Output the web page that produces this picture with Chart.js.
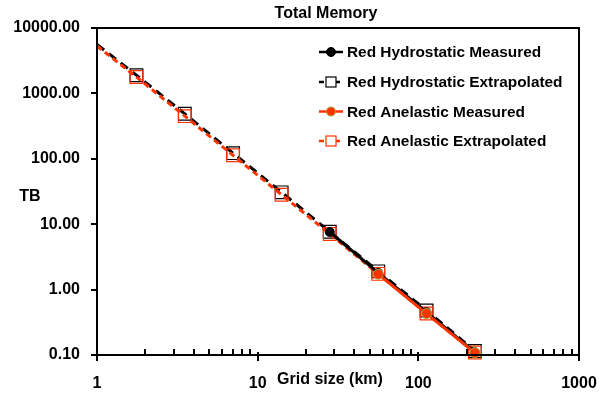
<!DOCTYPE html>
<html>
<head>
<meta charset="utf-8">
<script src="https://cdn.jsdelivr.net/npm/chart.js@4.4.1/dist/chart.umd.min.js"></script>
<style>
  html, body { margin: 0; padding: 0; background: #fff; }
  #wrap { width: 605px; height: 394px; }
</style>
</head>
<body>
<div id="wrap"><canvas id="c" width="605" height="394"></canvas></div>
<script>
// Grid sizes (km) and memory totals (TB)
const gridSize        = [1, 1.76, 3.52, 7.03, 14.1, 28.1, 56.3, 112.5, 225];
const hydroExtrap     = [5600, 1900, 487, 122, 30.7, 7.65, 1.9, 0.48, 0.115];
const anelExtrap      = [5300, 1780, 449, 113, 28.2, 7.1, 1.74, 0.43, 0.109];
const measuredSize    = [28.1, 56.3, 112.5, 225];
const hydroMeasured   = [7.6, 1.8, 0.45, 0.11];
const anelSize        = [56.3, 112.5, 225];
const anelMeasured    = [1.72, 0.43, 0.108];
const xTicks = [1, 10, 100, 1000];
const yTicks = [0.1, 1, 10, 100, 1000, 10000];

const RED = '#FF3300';
const OLIVE = '#9BA83A';
const FONT = "'Liberation Sans', Arial, sans-serif";

const pts = (xs, ys) => xs.map((x, i) => ({ x: x, y: ys[i] }));
const isPow10 = v => Math.abs(Math.log10(v) - Math.round(Math.log10(v))) < 1e-9;

const series = [
  { label: 'Red Hydrostatic Measured', color: '#000', dash: [], marker: 'dot' },
  { label: 'Red Hydrostatic Extrapolated', color: '#000', dash: [9, 6], marker: 'square' },
  { label: 'Red Anelastic Measured', color: RED, dash: [], marker: 'dot' },
  { label: 'Red Anelastic Extrapolated', color: RED, dash: [6, 4], marker: 'square' }
];

// Frame, tick marks, legend and axis titles
const decor = {
  id: 'decor',
  afterDraw(chart) {
    const { ctx, chartArea: a, scales } = chart;
    const xs = scales.x, ys = scales.y;
    ctx.save();
    ctx.strokeStyle = '#000';
    ctx.lineWidth = 2;
    ctx.strokeRect(a.left, a.top, a.right - a.left, a.bottom - a.top);
    // x ticks: majors cross the axis, minors point inward
    ctx.beginPath();
    for (let d = 1; d <= 1000; d *= 10) {
      for (let m = 1; m <= 9; m++) {
        const v = d * m;
        if (v > 1000) break;
        const px = Math.round(xs.getPixelForValue(v));
        if (m === 1) { ctx.moveTo(px, a.bottom - 3); ctx.lineTo(px, a.bottom + 6); }
        else { ctx.moveTo(px, a.bottom - 6); ctx.lineTo(px, a.bottom); }
      }
    }
    // y ticks: majors outward
    yTicks.forEach(v => {
      const py = Math.round(ys.getPixelForValue(v));
      ctx.moveTo(a.left - 6, py); ctx.lineTo(a.left, py);
    });
    ctx.stroke();

    // titles
    ctx.fillStyle = '#000';
    ctx.font = 'bold 16px ' + FONT;
    ctx.textAlign = 'center';
    ctx.textBaseline = 'middle';
    ctx.fillText('Total Memory', 326, 14);
    ctx.fillText('Grid size (km)', 330, 380);
    ctx.fillText('TB', 30, 197);

    // legend
    ctx.font = 'bold 15.4px ' + FONT;
    const x0 = 319, x1 = 343, tx = 347;
    const rows = [52, 82, 111.5, 141];
    series.forEach((s, i) => {
      const y = rows[i];
      ctx.strokeStyle = s.color;
      ctx.lineWidth = 2.5;
      ctx.setLineDash(s.dash.length ? [5, 3] : []);
      ctx.beginPath(); ctx.moveTo(x0, y); ctx.lineTo(x1, y); ctx.stroke();
      ctx.setLineDash([]);
      const cx = (x0 + x1) / 2;
      if (s.marker === 'dot') {
        ctx.fillStyle = s.color;
        ctx.strokeStyle = s.color === RED ? OLIVE : '#000';
        ctx.lineWidth = 1;
        ctx.beginPath(); ctx.arc(cx, y, 4.5, 0, Math.PI * 2); ctx.fill(); ctx.stroke();
      } else {
        ctx.fillStyle = '#fff';
        ctx.strokeStyle = s.color;
        ctx.lineWidth = 1.2;
        ctx.fillRect(cx - 5, y - 5, 10, 10);
        ctx.strokeRect(cx - 5, y - 5, 10, 10);
      }
      ctx.fillStyle = '#000';
      ctx.textAlign = 'left';
      ctx.textBaseline = 'middle';
      ctx.fillText(s.label, tx, y + 1);
    });
    ctx.restore();
  }
};

new Chart(document.getElementById('c'), {
  type: 'line',
  data: {
    datasets: [
      {
        label: series[1].label, data: pts(gridSize, hydroExtrap),
        borderColor: '#000', borderWidth: 3, borderDash: series[1].dash,
        pointStyle: 'rect', pointRadius: gridSize.map((x, i) => i === 0 ? 0 : 9),
        pointBackgroundColor: 'rgba(0,0,0,0)', pointBorderColor: '#000', pointBorderWidth: 1.2,
        order: 4, clip: false, tension: 0
      },
      {
        label: series[3].label, data: pts(gridSize, anelExtrap),
        borderColor: RED, borderWidth: 3, borderDash: series[3].dash,
        pointStyle: 'rect', pointRadius: gridSize.map((x, i) => i === 0 ? 0 : 9),
        pointBackgroundColor: 'rgba(0,0,0,0)', pointBorderColor: RED, pointBorderWidth: 1.2,
        order: 3, clip: false, tension: 0
      },
      {
        label: series[0].label, data: pts(measuredSize, hydroMeasured),
        borderColor: '#000', borderWidth: 3,
        pointStyle: 'circle', pointRadius: 4.5,
        pointBackgroundColor: '#000', pointBorderColor: '#000', pointBorderWidth: 1,
        order: 2, clip: false, tension: 0
      },
      {
        label: series[2].label, data: pts(anelSize, anelMeasured),
        borderColor: RED, borderWidth: 3,
        pointStyle: 'circle', pointRadius: 5,
        pointBackgroundColor: RED, pointBorderColor: OLIVE, pointBorderWidth: 1,
        order: 1, clip: false, tension: 0
      }
    ]
  },
  options: {
    responsive: false,
    animation: false,
    events: [],
    layout: { padding: { top: 28, right: 26, left: 0, bottom: 0 } },
    plugins: { legend: { display: false }, title: { display: false }, tooltip: { enabled: false } },
    scales: {
      x: {
        type: 'logarithmic', min: 1, max: 1000,
        grid: { display: false, drawTicks: false },
        border: { display: false },
        afterBuildTicks: s => { s.ticks = xTicks.map(v => ({ value: v })); },
        afterFit: s => { s.height = 39; s.paddingLeft = 0; s.paddingRight = 0; },
        ticks: {
          autoSkip: false, maxRotation: 0, padding: 19, color: '#000',
          font: { family: FONT, size: 16, weight: 'bold' },
          callback: v => isPow10(v) ? String(Math.round(v)) : ''
        }
      },
      y: {
        type: 'logarithmic', min: 0.1, max: 10000,
        grid: { display: false, drawTicks: false },
        border: { display: false },
        afterBuildTicks: s => { s.ticks = yTicks.map(v => ({ value: v })); },
        afterFit: s => { s.width = 97; s.paddingTop = 0; s.paddingBottom = 0; },
        ticks: {
          autoSkip: false, padding: 17, color: '#000',
          font: { family: FONT, size: 16, weight: 'bold' },
          callback: v => isPow10(v) ? Number(v).toFixed(2) : ''
        }
      }
    }
  },
  plugins: [decor]
});
</script>
</body>
</html>
